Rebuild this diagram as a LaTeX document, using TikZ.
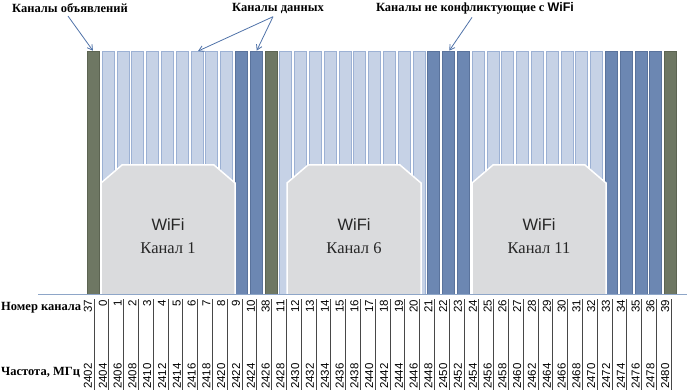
\documentclass[tikz,border=0pt]{standalone}
\usepackage{fontspec}
\setmainfont{Liberation Serif}
\setsansfont{Liberation Sans}
\usepackage{tikz}
\usetikzlibrary{positioning, arrows.meta, calc}
\definecolor{cAdv}       {HTML}{6E7763}
\definecolor{cAdvEdge}   {HTML}{5C6452}
\definecolor{cData}      {HTML}{C6D2E6}
\definecolor{cDataEdge}  {HTML}{9CB1D4}
\definecolor{cNoConf}    {HTML}{6C87B2}
\definecolor{cNoConfEdge}{HTML}{5A739C}
\definecolor{cWifi}      {HTML}{DADBDD}
\definecolor{cPointer}   {HTML}{4F72A8}
\definecolor{cAxis}      {HTML}{8EA6C8}
\definecolor{cTick}      {HTML}{474747}

\tikzset{
  chbar/.style={rectangle, anchor=north, minimum width=12pt, minimum height=242pt,
                inner sep=0pt, line width=1pt},
  advbar/.style={chbar, fill=cAdv, draw=cAdvEdge},
  databar/.style={chbar, fill=cData, draw=cDataEdge},
  noconfbar/.style={chbar, fill=cNoConf, draw=cNoConfEdge},
  toplabel/.style={font=\fontsize{12.5}{12.5}\selectfont\bfseries, text=black},
  rowlabel/.style={font=\fontsize{12.5}{12.5}\selectfont\bfseries, anchor=west, inner sep=0pt},
  chnum/.style={font=\fontsize{11.5}{11.5}\selectfont\sffamily, rotate=90, anchor=east, inner sep=0pt},
  chfreq/.style={font=\fontsize{11.5}{11.5}\selectfont\sffamily, rotate=90, anchor=west, inner sep=0pt},
  pointer/.style={draw=cPointer, line width=0.8pt, -{Straight Barb[length=5pt, width=6pt]}, shorten >=1pt},
}

\begin{document}
\begin{tikzpicture}[x=1pt, y=-1pt]
  \useasboundingbox (0,0) rectangle (687,390);

  % Advertising channels
  \foreach \ch/\i in {37/0, 38/12, 39/39}
    \node[advbar] (ch\ch) at ({93.5+14.8*\i}, 51.5) {};
  % Data channels
  \foreach \ch in {0,1,2,3,4,5,6,7,8}
    \node[databar] (ch\ch) at ({93.5+14.8*(\ch+1)}, 51.5) {};
  \foreach \ch in {11,12,13,14,15,16,17,18,19,20,24,25,26,27,28,29,30,31,32}
    \node[databar] (ch\ch) at ({93.5+14.8*(\ch+2)}, 51.5) {};
  % Data channels clear of WiFi
  \foreach \ch in {9,10}
    \node[noconfbar] (ch\ch) at ({93.5+14.8*(\ch+1)}, 51.5) {};
  \foreach \ch in {21,22,23,33,34,35,36}
    \node[noconfbar] (ch\ch) at ({93.5+14.8*(\ch+2)}, 51.5) {};

  % WiFi channels on top
  \foreach \c/\n in {168/1, 354/6, 539/11} {
    \fill[cWifi, draw=white, line width=1.5pt]
      (\c-67,294) -- (\c-67,183) -- (\c-46,165) -- (\c+46,165) -- (\c+67,183) -- (\c+67,294);
    \node[font=\fontsize{16.5}{23}\selectfont, text=black!85, align=center] (wifi\n) at (\c, 236)
      {{\sffamily WiFi}\\Канал \n};
  }

  % Axis line
  \coordinate (axisL) at (38,294);
  \coordinate (axisR) at (687,294);
  \draw[cAxis, line width=0.8pt] (axisL) -- (axisR);

  % Channel numbers and frequencies
  \foreach \ch [count=\i from 0] in {37,0,1,2,3,4,5,6,7,8,9,10,38,11,12,13,14,15,16,17,18,19,20,
                                     21,22,23,24,25,26,27,28,29,30,31,32,33,34,35,36,39} {
    \pgfmathsetmacro{\xc}{93.5+14.8*\i}
    \pgfmathtruncatemacro{\fr}{2402+2*\i}
    \node[chnum] (num\ch) at (\xc-5.5, 300) {\ch};
    \node[chfreq] (freq\ch) at (\xc-5.5, 389) {\fr};
    \draw[cTick, line width=0.7pt] (\xc+0.5,299) -- (\xc+0.5,390);
  }
  \node[rowlabel] (numlbl) at (1, 308) {Номер канала};
  \node[rowlabel] (freqlbl) at (1, 372) {Частота, МГц};

  % Top labels and pointers
  \node[toplabel] (advlbl) at (70, 8) {Каналы объявлений};
  \node[toplabel] (datalbl) at (278, 8) {Каналы данных};
  \node[toplabel] (noconflbl) at (475, 8) {Каналы не конфликтующие с {\sffamily WiFi}};
  \draw[pointer] ([xshift=-2pt]advlbl.south) -- (ch37.north);
  \draw[pointer] ([xshift=-5pt]datalbl.south) -- (ch6.north);
  \draw[pointer] ([xshift=-5pt]datalbl.south) -- (ch10.north);
  \draw[pointer] ([xshift=-3pt]noconflbl.south) -- (ch22.north);
\end{tikzpicture}
\end{document}
